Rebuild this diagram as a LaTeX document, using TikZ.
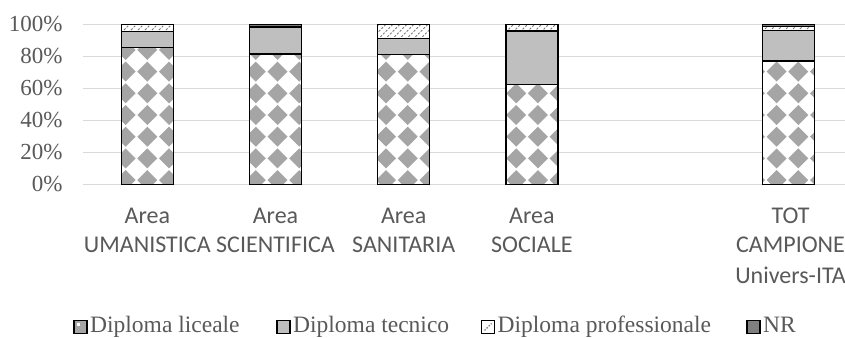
\documentclass[tikz,border=0pt]{standalone}
\usepackage{fontspec}
\setmainfont{Liberation Serif}
\newfontfamily\calfont{Carlito}
\definecolor{txt}{HTML}{595959}
\definecolor{gridc}{HTML}{D9D9D9}
\definecolor{tecc}{HTML}{BFBFBF}
\definecolor{licc}{HTML}{A5A5A5}
\definecolor{nrc}{HTML}{7F7F7F}
\definecolor{hatc}{HTML}{7A7A7A}
\tikzset{
  gridline/.style={gridc, line width=1.5pt},
  barborder/.style={black, line width=1.5pt},
  ticklab/.style={txt, inner sep=0pt, anchor=base east, font=\fontsize{23}{27}\selectfont},
  catlab/.style={txt, inner sep=0pt, anchor=base, font=\calfont\fontsize{24}{29}\selectfont},
  leglab/.style={txt, inner sep=0pt, anchor=base west, font=\fontsize{23.5}{28}\selectfont},
  legbox/.style={draw=black, line width=1.3pt},
  hatchline/.style={hatc, line width=0.9pt, dash pattern=on 2.2pt off 1.6pt}
}
% #1 centre x, #2 liceale top, #3 tecnico top, #4 professionale top (NR up to 100)
\newcommand\drawbar[4]{%
  \pgfmathsetmacro\xl{#1-26}%
  \pgfmathsetmacro\xr{#1+26}%
  \pgfmathsetmacro\ya{184.5-1.6*#2}%
  \pgfmathsetmacro\yb{184.5-1.6*#3}%
  \pgfmathsetmacro\yc{184.5-1.6*#4}%
  \pgfmathsetmacro\xs{147.3+21.7*floor((#1-26-147.3)/21.7)}%
  \begin{scope}
    \clip (\xl,184.5) rectangle (\xr,\ya);
    \fill[white] (\xl,184.5) rectangle (\xr,\ya);
    \foreach \i in {0,...,3}{
      \foreach \j in {0,...,8}{
        \fill[licc] ({\xs+21.7*\i-10},{180.1-21.7*\j}) -- ({\xs+21.7*\i},{180.1-21.7*\j-10})
          -- ({\xs+21.7*\i+10},{180.1-21.7*\j}) -- ({\xs+21.7*\i},{180.1-21.7*\j+10}) -- cycle;
      }
    }
  \end{scope}
  \fill[tecc] (\xl,\ya) rectangle (\xr,\yb);
  \begin{scope}
    \clip (\xl,\yb) rectangle (\xr,\yc);
    \fill[white] (\xl,\yb) rectangle (\xr,\yc);
    \foreach \t in {-3,...,9}{
      \draw[hatchline] ({\xl+7*\t},{\yb+1}) -- ++(18,-18);
    }
  \end{scope}
  \fill[nrc] (\xl,\yc) rectangle (\xr,24.5);
  \draw[barborder] (\xl,\ya) -- (\xr,\ya);
  \draw[barborder] (\xl,\yb) -- (\xr,\yb);
  \draw[barborder] (\xl,\yc) -- (\xr,\yc);
  \draw[barborder] (\xl,184.5) rectangle (\xr,24.5);
}
\begin{document}
\begin{tikzpicture}[x=1pt,y=-1pt]
\useasboundingbox[fill=white] (0,0) rectangle (845,337);
% gridlines
\foreach \k in {0,...,5}{
  \draw[gridline] (83,{24.5+32*\k}) -- (845,{24.5+32*\k});
}
% tick labels
\node[ticklab] (t100) at (62.7,31.3) {100\%};
\node[ticklab] (t80)  at (62.7,63.3) {80\%};
\node[ticklab] (t60)  at (62.7,95.3) {60\%};
\node[ticklab] (t40)  at (62.7,127.3) {40\%};
\node[ticklab] (t20)  at (62.7,159.3) {20\%};
\node[ticklab] (t0)   at (62.7,191.3) {0\%};
% bars
\drawbar{147.3}{85.5}{95.5}{100}
\drawbar{275.5}{81.7}{98.2}{98.4}
\drawbar{403.7}{81.4}{91.2}{100}
\drawbar{531.9}{62.6}{95.9}{100}
\drawbar{788.3}{77.2}{96.2}{98.6}
% category labels
\node[catlab] (c1a) at (147.3,223.3) {Area};
\node[catlab] (c1b) at (147.3,252.7) {UMANISTICA};
\node[catlab] (c2a) at (275.5,223.3) {Area};
\node[catlab] (c2b) at (275.5,252.7) {SCIENTIFICA};
\node[catlab] (c3a) at (403.7,223.3) {Area};
\node[catlab] (c3b) at (403.7,252.7) {SANITARIA};
\node[catlab] (c4a) at (531.9,223.3) {Area};
\node[catlab] (c4b) at (531.9,252.7) {SOCIALE};
\node[catlab] (c5a) at (790.5,223.3) {TOT};
\node[catlab] (c5b) at (790.5,252.7) {CAMPIONE};
\node[catlab] (c5c) at (790.5,283.5) {Univers-ITA};
% legend
\fill[licc] (74,320.5) rectangle (87,333.3);
\fill[white] (76.5,323) rectangle (79.5,326);
\draw[legbox] (74,320.5) rectangle (87,333.3);
\node[leglab] (l1) at (90,332.7) {Diploma liceale};
\fill[tecc] (277,320.5) rectangle (290,333.3);
\draw[legbox] (277,320.5) rectangle (290,333.3);
\node[leglab] (l2) at (293,332.7) {Diploma tecnico};
\fill[white] (481.5,320.5) rectangle (494.5,333.3);
\draw[hatchline, line width=1.2pt, dash pattern=on 1.5pt off 1.5pt] (484.5,330.5) -- (491.5,323.5);
\draw[legbox] (481.5,320.5) rectangle (494.5,333.3);
\node[leglab] (l3) at (497.5,332.7) {Diploma professionale};
\fill[nrc] (747,320.5) rectangle (760,333.3);
\draw[legbox] (747,320.5) rectangle (760,333.3);
\node[leglab] (l4) at (763,332.7) {NR};
\end{tikzpicture}
\end{document}
